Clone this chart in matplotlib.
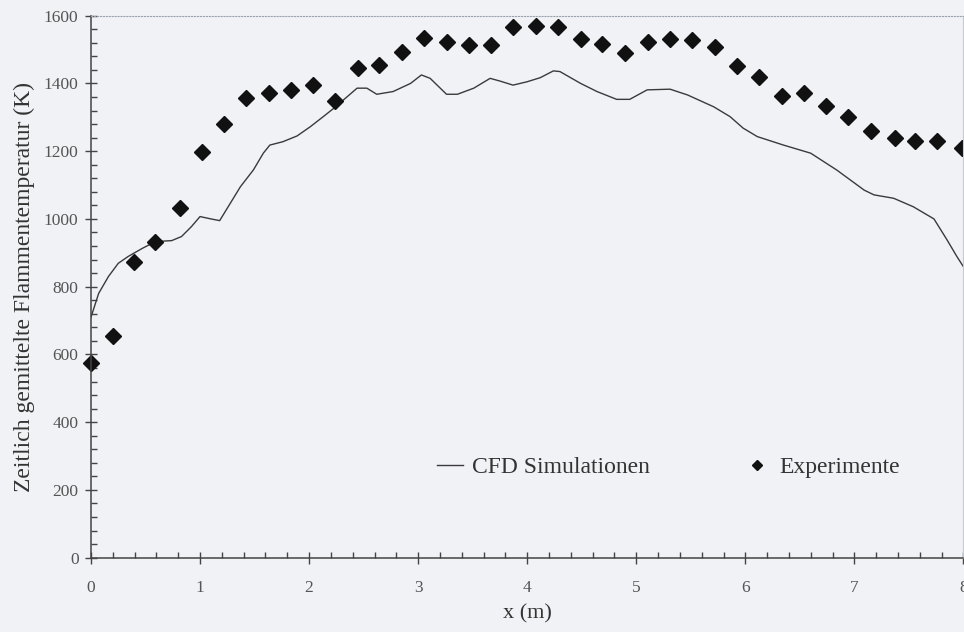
import numpy as np
import matplotlib as mpl
mpl.use('Agg')
import matplotlib.pyplot as plt
from matplotlib.ticker import MultipleLocator

# CFD simulation: averaged flame temperature along the axis
cfd_x = [0.0, 0.07, 0.16, 0.25, 0.34, 0.47, 0.59, 0.74, 0.83, 0.92, 1.0, 1.1, 1.18,
         1.37, 1.49, 1.58, 1.64, 1.76, 1.89, 2.01, 2.13, 2.22, 2.35, 2.44, 2.53, 2.62,
         2.77, 2.93, 3.03, 3.11, 3.26, 3.36, 3.51, 3.66, 3.75, 3.87, 4.0, 4.12, 4.24,
         4.30, 4.49, 4.64, 4.82, 4.94, 5.10, 5.31, 5.47, 5.71, 5.86, 5.98, 6.11, 6.35,
         6.60, 6.84, 7.09, 7.18, 7.36, 7.54, 7.73, 7.85, 7.94, 8.0]
cfd_T = [710, 780, 830, 869, 889, 913, 933, 936, 948, 977, 1007, 1000, 995,
         1095, 1145, 1194, 1218, 1228, 1245, 1272, 1302, 1325, 1361, 1386, 1386, 1368,
         1376, 1400, 1425, 1415, 1368, 1368, 1386, 1415, 1407, 1395, 1405, 1417, 1437,
         1435, 1400, 1376, 1353, 1353, 1381, 1383, 1366, 1331, 1302, 1268, 1243, 1218,
         1194, 1144, 1085, 1071, 1061, 1036, 1000, 938, 889, 859]

# measured values
exp_x = [0.0, 0.2, 0.39, 0.59, 0.82, 1.02, 1.22, 1.42, 1.63, 1.83, 2.04, 2.24, 2.45,
         2.64, 2.85, 3.05, 3.26, 3.47, 3.67, 3.87, 4.08, 4.28, 4.49, 4.69, 4.9, 5.11,
         5.31, 5.51, 5.72, 5.92, 6.13, 6.34, 6.54, 6.74, 6.94, 7.15, 7.37, 7.56, 7.76, 7.99]
exp_T = [574, 655, 872, 931, 1031, 1197, 1280, 1358, 1371, 1381, 1395, 1348, 1445,
         1454, 1492, 1533, 1523, 1514, 1514, 1568, 1570, 1568, 1530, 1516, 1489, 1521,
         1531, 1528, 1508, 1452, 1420, 1363, 1371, 1334, 1300, 1261, 1238, 1231, 1231, 1209]

xticks = [0, 1, 2, 3, 4, 5, 6, 7, 8]
yticks = [0, 200, 400, 600, 800, 1000, 1200, 1400, 1600]

plt.rcParams['font.family'] = ['Liberation Serif', 'DejaVu Serif']

bg = '#f1f2f6'
axc = '#444444'
fig = plt.figure(figsize=(9.64, 6.32), dpi=100, facecolor=bg)
ax = fig.add_axes([0.0944, 0.1176, 0.905, 0.8576], facecolor=bg)

ax.plot(cfd_x, cfd_T, '-', color='#3a3a3a', lw=1.0, label='CFD Simulationen')
ax.plot(exp_x, exp_T, 'D', color='#111111', ms=8.5, ls='none', label='Experimente', clip_on=False)

ax.set_xlim(0, 8)
ax.set_ylim(0, 1600)
ax.set_xticks(xticks)
ax.set_yticks(yticks)
ax.xaxis.set_minor_locator(MultipleLocator(0.2))
ax.yaxis.set_minor_locator(MultipleLocator(40))

ax.tick_params(which='major', direction='inout', length=8, width=1, color=axc,
               labelsize=12.5, labelcolor='#555555')
ax.tick_params(which='minor', direction='in', length=4, width=1, color=axc)
ax.tick_params(axis='x', pad=12)
ax.tick_params(axis='y', pad=5)

for s in ['left', 'bottom']:
    ax.spines[s].set_color(axc)
    ax.spines[s].set_linewidth(1.1)
ax.spines['top'].set_color('#9aa3ad')
ax.spines['top'].set_linestyle(':')
ax.spines['right'].set_color('#c5cad2')

ax.set_xlabel('x (m)', fontsize=16, color='#333333', labelpad=6)
ax.set_ylabel('Zeitlich gemittelte Flammentemperatur (K)', fontsize=17,
              color='#333333', labelpad=6)

leg = ax.legend(ncol=2, loc='center', bbox_to_anchor=(0.662, 0.167), frameon=False,
                fontsize=17, handlelength=1.1, handletextpad=0.4, columnspacing=4.0,
                markerscale=0.65, labelcolor='#333333')

fig.savefig('out.png', dpi=100, facecolor=bg)
